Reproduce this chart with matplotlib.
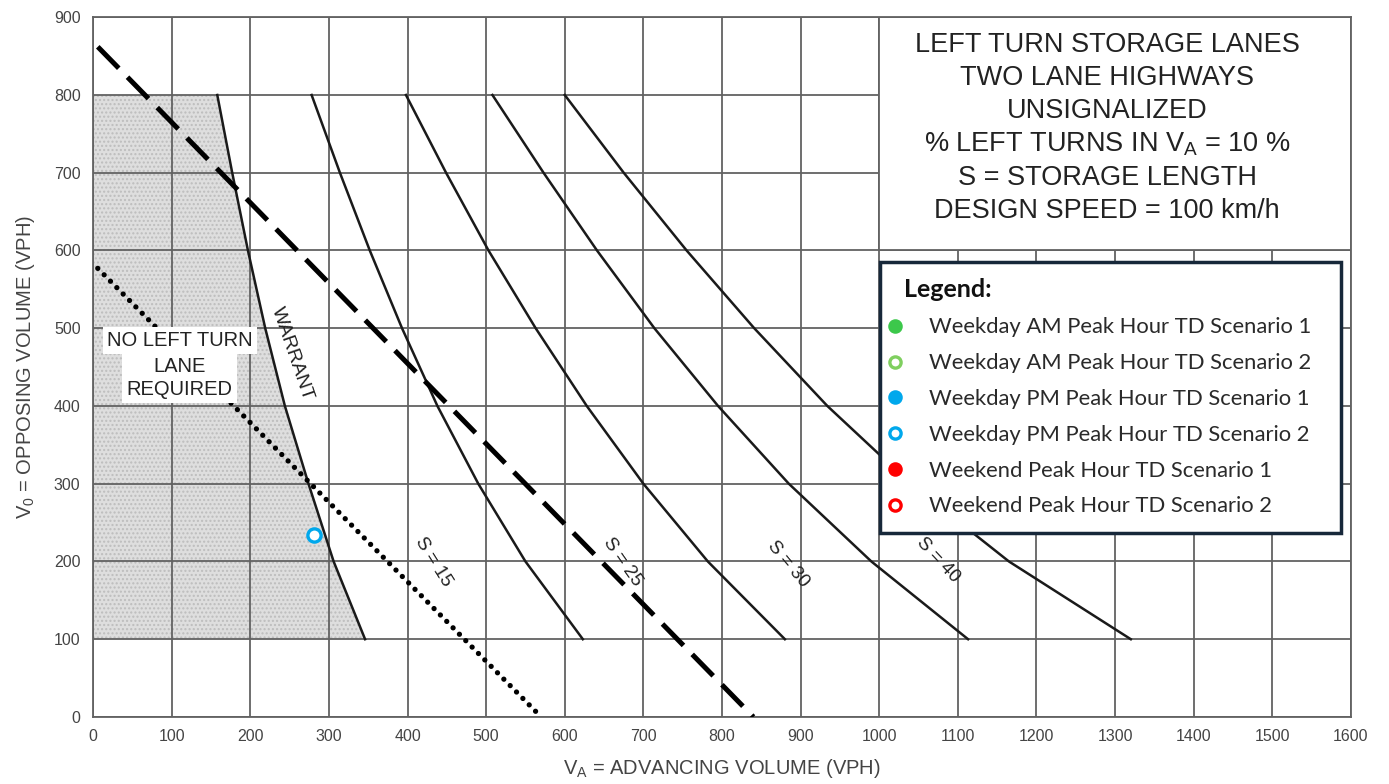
import matplotlib
matplotlib.use('Agg')
import matplotlib.pyplot as plt
from matplotlib.patches import Rectangle


# opposing volume levels (VPH) at which the curves were read
curve_v0 = [800, 700, 600, 500, 400, 300, 200, 100]

# advancing volume (VPH) of each curve at the levels above
warrant_va = [158, 177, 197, 219, 244, 274, 306, 346]
s15_va = [278, 314, 352, 393, 438, 490, 550, 623]
s25_va = [398, 449, 503, 563, 628, 700, 782, 880]
s30_va = [508, 573, 641, 714, 795, 885, 990, 1113]
s40_va = [600, 675, 755, 841, 934, 1040, 1165, 1320]

# straight guide lines (end points)
dashed_va = [6, 840]
dashed_v0 = [862, 0]
dotted_va = [6, 570]
dotted_v0 = [577, 0]

# scenario points
scenario_labels = ['Weekday AM Peak Hour TD Scenario 1',
                   'Weekday AM Peak Hour TD Scenario 2',
                   'Weekday PM Peak Hour TD Scenario 1',
                   'Weekday PM Peak Hour TD Scenario 2',
                   'Weekend Peak Hour TD Scenario 1',
                   'Weekend Peak Hour TD Scenario 2']
scenario_colors = ['#3cc84b', '#7fcf5f', '#00a8ec', '#00a8ec', '#ff0000', '#ff0000']
scenario_filled = [True, False, True, False, True, False]
scenario_va = [[], [], [], [281], [], []]
scenario_v0 = [[], [], [], [234], [], []]

title_lines = ['LEFT TURN STORAGE LANES',
               'TWO LANE HIGHWAYS',
               'UNSIGNALIZED',
               r'% LEFT TURNS IN V$_\mathregular{A}$ = 10 %',
               'S = STORAGE LENGTH',
               'DESIGN SPEED = 100 km/h']

curve_labels = ['S = 15', 'S = 25', 'S = 30', 'S = 40']


plt.rcParams['font.family'] = ['Liberation Sans', 'DejaVu Sans']

fig = plt.figure(figsize = (13.89, 7.84), dpi = 100)
ax = fig.add_axes([0.067, 0.0855, 0.9056, 0.8925])

grid_color = '#626262'
text_color = '#444444'
ink = '#222222'

# shaded "no left turn lane required" area
shade_x = [0] + warrant_va + [0]
shade_y = [curve_v0[0]] + curve_v0 + [curve_v0[-1]]
ax.fill(shade_x, shade_y, facecolor = '#dedede', edgecolor = '#bdbdbd', hatch = '....',
        linewidth = 0, zorder = 0.3)

ax.set_xlim(0, 1600)
ax.set_ylim(0, 900)
ax.set_xticks(range(0, 1601, 100))
ax.set_yticks(range(0, 901, 100))
ax.set_axisbelow(True)
ax.grid(True, color = grid_color, linewidth = 1.3)
ax.tick_params(length = 0, pad = 9, labelsize = 11.5, labelcolor = text_color)
for spine in ax.spines.values():
    spine.set_color(grid_color)
    spine.set_linewidth(1.3)

# title box sits over the grid
ax.add_patch(Rectangle((1000, 600), 600, 300, facecolor = 'white', edgecolor = grid_color,
                       linewidth = 1.3, zorder = 2))
for i, line in enumerate(title_lines):
    ax.text(1290, 864 - i*42.6, line, ha = 'center', va = 'center', fontsize = 19.5,
            color = ink, zorder = 3)

# curves
for va in [warrant_va, s15_va, s25_va, s30_va, s40_va]:
    ax.plot(va, curve_v0, color = '#1a1a1a', linewidth = 1.8, zorder = 3,
            solid_joinstyle = 'round')

ax.plot(dashed_va, dashed_v0, color = 'black', linewidth = 3.6, dashes = (6, 2.5), zorder = 3)
ax.plot(dotted_va, dotted_v0, color = 'black', linewidth = 3.8, linestyle = (0, (0.01, 1.7)),
        dash_capstyle = 'round', zorder = 3)

# curve labels
ax.text(253, 467, 'WARRANT', rotation = -71, ha = 'center', va = 'center', fontsize = 14,
        color = ink, rotation_mode = 'anchor', zorder = 4)
label_pos = [(433, 199, -58), (673, 199, -55), (884, 197, -50), (1075, 202, -47)]
for label, (x, y, rot) in zip(curve_labels, label_pos):
    ax.text(x, y, label, rotation = rot, ha = 'center', va = 'center', fontsize = 13.5,
            color = ink, rotation_mode = 'anchor', zorder = 4)

ax.text(110, 484, 'NO LEFT TURN', ha = 'center', va = 'center', fontsize = 14.5,
        color = ink, zorder = 4, bbox = dict(facecolor = 'white', edgecolor = 'none', pad = 3))
ax.text(110, 436, 'LANE\nREQUIRED', ha = 'center', va = 'center', fontsize = 14.5,
        color = ink, linespacing = 1.28, zorder = 4,
        bbox = dict(facecolor = 'white', edgecolor = 'none', pad = 3))

ax.set_xlabel(r'V$_\mathregular{A}$ = ADVANCING VOLUME (VPH)', fontsize = 14.5, color = text_color,
              labelpad = 9)
ax.set_ylabel(r'V$_\mathregular{0}$ = OPPOSING VOLUME (VPH)', fontsize = 14.5, color = text_color,
              labelpad = 12)

# scenarios
handles = []
for label, color, filled, xs, ys in zip(scenario_labels, scenario_colors, scenario_filled,
                                        scenario_va, scenario_v0):
    h, = ax.plot(xs, ys, linestyle = 'none', marker = 'o', markersize = 9.5,
                 markerfacecolor = color if filled else 'white', markeredgecolor = color,
                 markeredgewidth = 2.4, label = label, zorder = 5)
    handles.append(h)

# legend frame and title drawn by hand so the box matches
ax.add_patch(Rectangle((0.6256, 0.263), 0.3664, 0.387, transform = ax.transAxes,
                       facecolor = 'white', edgecolor = '#17283a', linewidth = 2.5, zorder = 6))
ax.text(0.6445, 0.6114, 'Legend:', transform = ax.transAxes, ha = 'left', va = 'center',
        family = 'Lato', fontsize = 18, fontweight = 'bold', color = '#111111', zorder = 7)

leg = ax.legend(handles = handles, loc = 'upper left', bbox_to_anchor = (0.6307, 0.571),
                frameon = False, handlelength = 0.8, handletextpad = 1.15,
                labelspacing = 0.72, borderpad = 0, borderaxespad = 0, markerscale = 0.85,
                prop = {'family': 'Lato', 'size': 15.8})
for t in leg.get_texts():
    t.set_color('#2a2a2a')
leg.set_zorder(7)

fig.savefig('out.png', dpi = 100)
